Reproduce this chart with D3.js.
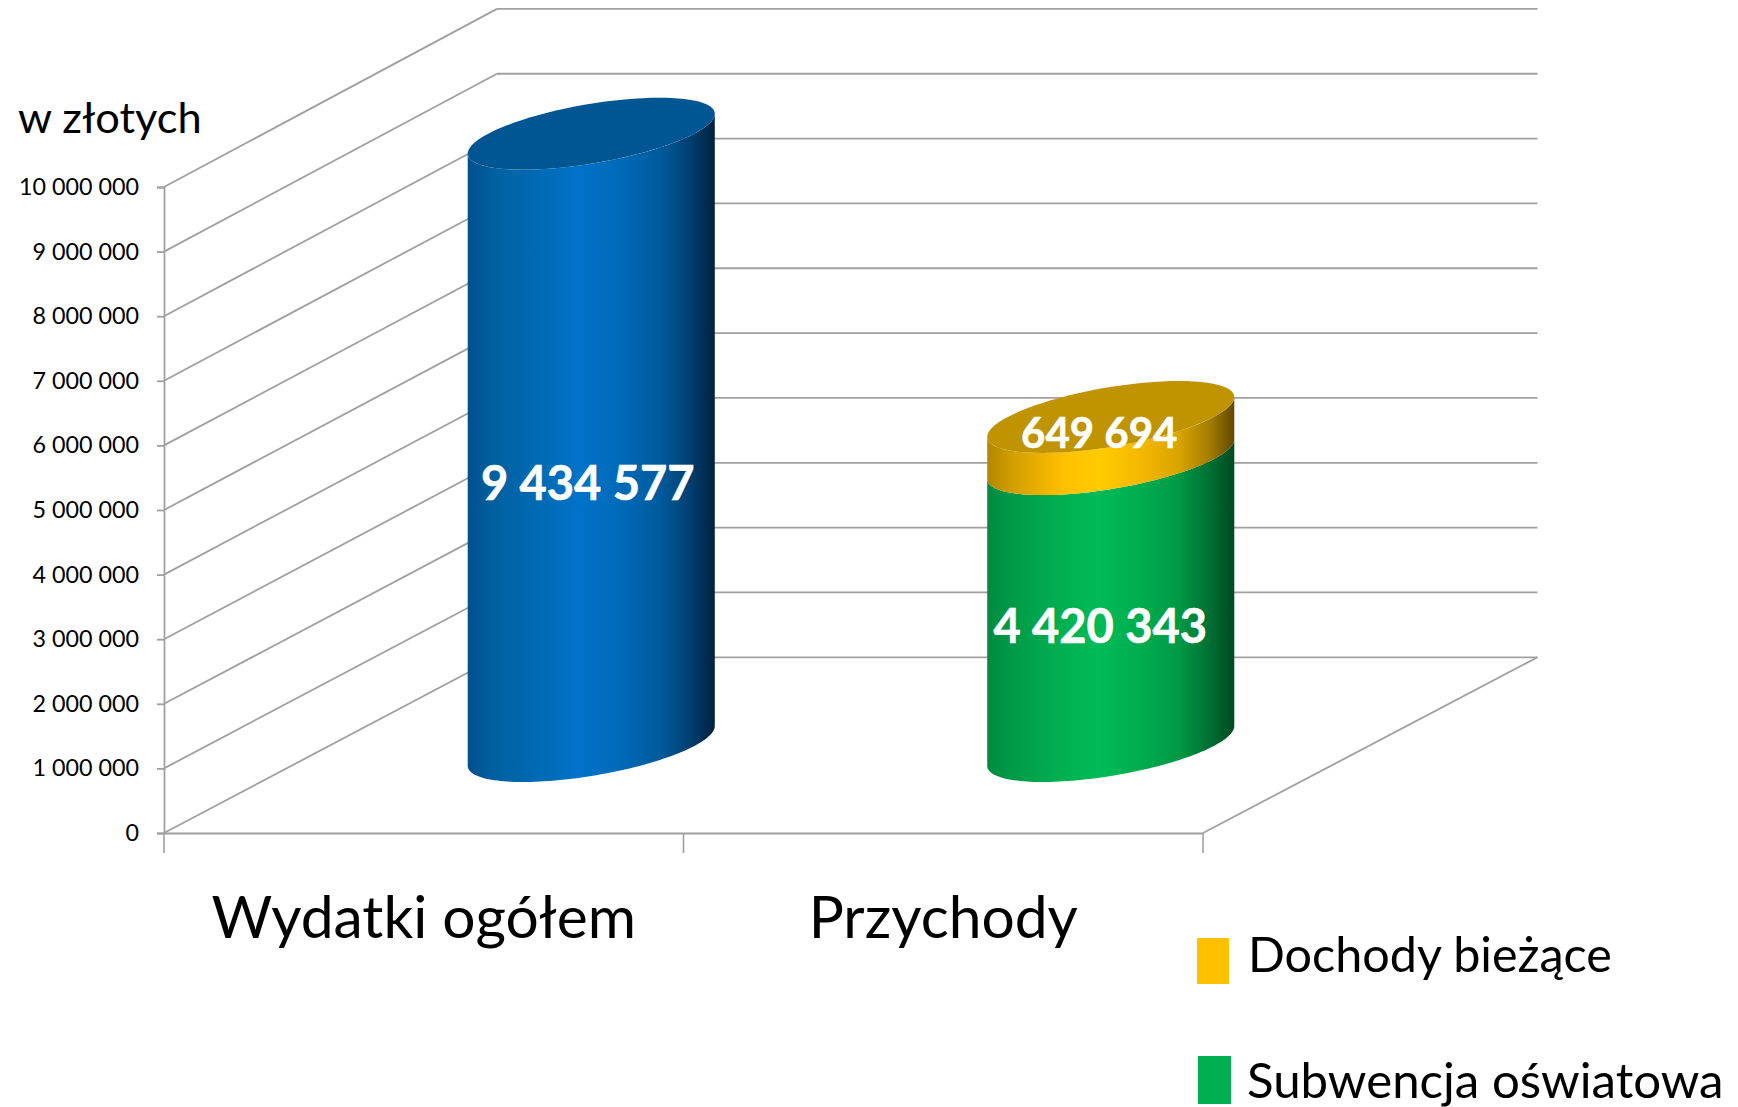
<!DOCTYPE html>
<html><head><meta charset="utf-8">
<script src="https://cdnjs.cloudflare.com/ajax/libs/d3/7.8.5/d3.min.js"></script>
<style>html,body{margin:0;padding:0;background:#fff}svg{display:block}text{font-family:Lato,"Open Sans",sans-serif}</style>
</head><body><svg id="c" width="1738" height="1107"></svg>
<script>
const categories = ["Wydatki ogółem", "Przychody"];
const wydatki = [9434577, 0];
const subwencja = [0, 4420343];
const dochody = [0, 649694];
const yTicks = [0,1e6,2e6,3e6,4e6,5e6,6e6,7e6,8e6,9e6,1e7];
const legendNames = ["Dochody bieżące", "Subwencja oświatowa"];

const svg = d3.select("#c");
const fmt = d3.formatLocale({decimal:",",thousands:"\u00a0",grouping:[3],currency:["","" ]}).format(",d");
const GRID = "#a0a0a0";

const x = d3.scaleBand().domain(categories).range([164,1203]);
const yFront = d3.scaleLinear().domain([0,1e7]).range([833,187]);
const yBack  = d3.scaleLinear().domain([0,1e7]).range([657.3,8.9]);
const DX = 333.5;
const xBack = 497;
// cylinders stand half-way into the floor depth
const yCyl = d3.scaleLinear().domain([0,1e7]).range([746,97]);

const defs = svg.append("defs");
function grad(id, stops){
  const g = defs.append("linearGradient").attr("id",id).attr("x1",0).attr("x2",1).attr("y1",0).attr("y2",0);
  stops.forEach(([o,c])=>g.append("stop").attr("offset",o).attr("stop-color",c));
}
grad("gBlue",[[0,"#00508c"],[.1,"#00609f"],[.3,"#006bb6"],[.45,"#0072c8"],[.62,"#006ab8"],[.78,"#005a9c"],[.9,"#003f70"],[1,"#00203f"]]);
grad("gGreen",[[0,"#008a40"],[.1,"#009a48"],[.3,"#00b050"],[.45,"#00bb58"],[.62,"#00ad4e"],[.78,"#009845"],[.9,"#006f33"],[1,"#004a20"]]);
grad("gYellow",[[0,"#b28700"],[.1,"#d09e00"],[.3,"#ffbf00"],[.45,"#ffcc00"],[.62,"#f5b800"],[.78,"#d9a300"],[.9,"#a37c00"],[1,"#604800"]]);

// walls
const grid = svg.append("g").attr("fill","none").attr("stroke",GRID).attr("stroke-width",1.8);
yTicks.forEach(t=>{
  grid.append("line").attr("x1",164).attr("y1",yFront(t)).attr("x2",xBack).attr("y2",yBack(t));
  grid.append("line").attr("x1",xBack).attr("y1",yBack(t)).attr("x2",xBack+1040.5).attr("y2",yBack(t));
});
grid.append("line").attr("x1",1203).attr("y1",yFront(0)).attr("x2",xBack+1040.5).attr("y2",yBack(0));

// y axis
const yAxis = d3.axisLeft(yFront).tickValues(yTicks).tickFormat(fmt).tickSize(7).tickPadding(18);
const ya = svg.append("g").attr("transform","translate(164,0)").call(yAxis);
ya.select(".domain").attr("stroke",GRID).attr("stroke-width",1.8);
ya.selectAll(".tick line").attr("stroke",GRID).attr("stroke-width",1.8);
ya.selectAll("text").attr("font-size",23.3).attr("fill","#000").style("font-family","Lato");

// x axis
const xa = svg.append("g").attr("transform",`translate(0,${yFront(0)})`)
  .call(d3.axisBottom(x).tickSize(0).tickPadding(63));
xa.select(".domain").attr("stroke",GRID).attr("stroke-width",2.2);
xa.selectAll("text").attr("font-size",58.7).attr("fill","#000").style("font-family","Lato");
const sep = [164,683.5,1203];
sep.forEach(v=>xa.append("line").attr("x1",v).attr("x2",v).attr("y1",0).attr("y2",20).attr("stroke",GRID).attr("stroke-width",1.6));

// cylinders
const A = 103, VX = 68.2, VY = 36;
const T0 = Math.atan2(VX, A);
const pt = (cx,cy,t)=>[cx + A*Math.cos(t) + VX*Math.sin(t), cy - VY*Math.sin(t)];
const line = d3.line();
const N = 80;
const front = d3.range(N+1).map(i=>T0 - Math.PI*i/N);
const full = d3.range(N+1).map(i=>2*Math.PI*i/N);
function body(cx,v0,v1,fill){
  const lo = front.map(t=>pt(cx,yCyl(v0),t));
  const hi = front.slice().reverse().map(t=>pt(cx,yCyl(v1),t));
  svg.append("path").attr("d",line(lo.concat(hi))+"Z").attr("fill",`url(#${fill})`);
}
function cap(cx,v,fill){
  svg.append("path").attr("d",line(full.map(t=>pt(cx,yCyl(v),t)))+"Z").attr("fill",fill);
}
const cxOf = c => x(c)+x.bandwidth()/2+167.5;

categories.forEach((c,i)=>{
  const cx = cxOf(c);
  if(wydatki[i]){ body(cx,0,wydatki[i],"gBlue"); cap(cx,wydatki[i],"#005693"); }
  if(subwencja[i]){
    body(cx,0,subwencja[i],"gGreen");
    body(cx,subwencja[i],subwencja[i]+dochody[i],"gYellow");
    cap(cx,subwencja[i]+dochody[i],"#c09400");
  }
});

// data labels
function lab(c,v,dx,yy,size){
  svg.append("text").attr("x",cxOf(c)+dx).attr("y",yy).attr("text-anchor","middle")
    .attr("font-size",size).attr("font-weight",700).attr("fill","#fff")
    .attr("stroke","#fff").attr("stroke-width",0.6).text(fmt(v));
}
lab(categories[0],wydatki[0],-3.5,500,47);
lab(categories[1],subwencja[1],-10.5,643,47);
lab(categories[1],dochody[1],-11.5,448,42);

// unit
svg.append("text").attr("x",18).attr("y",133).attr("font-size",43.4).attr("fill","#000").text("w złotych");

// legend
const legendColors = ["#ffc000","#00b050"];
const lg = [[1197,938,32,46,1248,972],[1198,1056,33,48,1247,1098]];
legendNames.forEach((n,i)=>{
  const [rx,ry,rw,rh,tx,ty]=lg[i];
  svg.append("rect").attr("x",rx).attr("y",ry).attr("width",rw).attr("height",rh).attr("fill",legendColors[i]);
  svg.append("text").attr("x",tx).attr("y",ty).attr("font-size",i?49.2:48.5).attr("fill","#000").text(n);
});
</script></body></html>
